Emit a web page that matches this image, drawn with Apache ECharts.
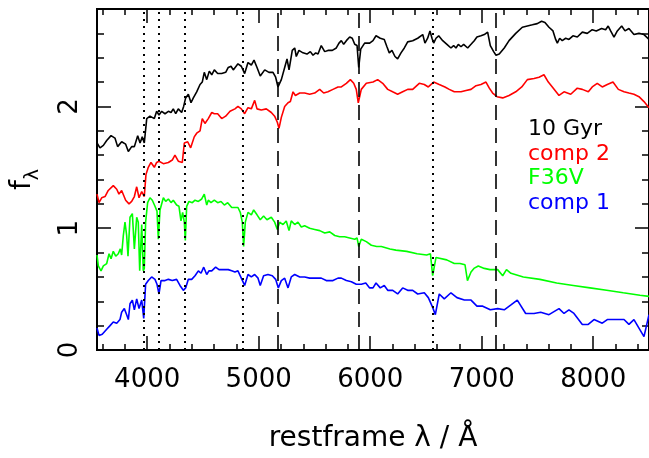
<!DOCTYPE html>
<html>
<head>
<meta charset="utf-8">
<script src="https://cdn.jsdelivr.net/npm/echarts@6/dist/echarts.min.js"></script>
<style>
html, body { margin: 0; padding: 0; background: #fff; }
#chart { width: 649px; height: 458px; }
</style>
</head>
<body>
<div id="chart"></div>
<script>
// spectra: [restframe wavelength (A), f_lambda]
var gyr10 = [[3550,1.70],[3577,1.66],[3607,1.68],[3637,1.72],[3676,1.76],[3711,1.74],[3735,1.67],[3771,1.71],[3807,1.69],[3831,1.63],[3861,1.67],[3885,1.67],[3915,1.76],[3936,1.70],[3956,1.75],[3974,1.70],[3996,1.90],[4025,1.92],[4064,1.90],[4085,1.96],[4106,1.93],[4130,1.96],[4160,1.94],[4190,1.96],[4214,1.95],[4234,1.98],[4256,1.94],[4279,1.98],[4309,1.95],[4327,2.00],[4345,2.07],[4369,2.10],[4393,2.03],[4414,2.07],[4444,2.12],[4474,2.18],[4494,2.20],[4512,2.28],[4534,2.22],[4557,2.29],[4579,2.26],[4602,2.30],[4632,2.27],[4668,2.27],[4704,2.28],[4727,2.32],[4752,2.33],[4772,2.30],[4814,2.35],[4844,2.33],[4874,2.27],[4904,2.36],[4934,2.34],[4958,2.38],[4985,2.32],[5014,2.25],[5054,2.30],[5092,2.28],[5128,2.28],[5152,2.24],[5173,2.16],[5203,2.22],[5233,2.32],[5254,2.39],[5272,2.30],[5301,2.46],[5323,2.48],[5337,2.41],[5361,2.46],[5397,2.44],[5433,2.43],[5463,2.45],[5487,2.42],[5511,2.44],[5532,2.43],[5561,2.50],[5592,2.45],[5621,2.46],[5660,2.46],[5696,2.48],[5720,2.52],[5741,2.54],[5762,2.51],[5786,2.54],[5816,2.57],[5839,2.56],[5861,2.51],[5882,2.50],[5897,2.32],[5915,2.47],[5950,2.52],[5995,2.52],[6025,2.54],[6052,2.58],[6090,2.56],[6126,2.55],[6150,2.49],[6171,2.44],[6195,2.46],[6222,2.41],[6246,2.39],[6276,2.44],[6306,2.48],[6336,2.53],[6381,2.54],[6426,2.56],[6471,2.59],[6491,2.52],[6515,2.56],[6536,2.62],[6554,2.56],[6569,2.52],[6590,2.56],[6614,2.58],[6650,2.54],[6688,2.51],[6724,2.48],[6748,2.50],[6769,2.48],[6790,2.51],[6814,2.49],[6838,2.51],[6874,2.48],[6904,2.51],[6933,2.54],[6957,2.57],[6993,2.58],[7023,2.59],[7053,2.61],[7077,2.50],[7107,2.45],[7128,2.42],[7157,2.43],[7202,2.48],[7245,2.54],[7305,2.60],[7364,2.65],[7409,2.66],[7454,2.67],[7498,2.68],[7537,2.70],[7567,2.69],[7603,2.65],[7639,2.62],[7663,2.55],[7678,2.52],[7699,2.56],[7722,2.54],[7753,2.56],[7782,2.55],[7818,2.58],[7857,2.57],[7902,2.61],[7946,2.60],[7991,2.63],[8027,2.62],[8075,2.64],[8111,2.63],[8134,2.66],[8156,2.62],[8186,2.57],[8216,2.62],[8255,2.66],[8285,2.62],[8320,2.64],[8365,2.59],[8410,2.60],[8455,2.59],[8500,2.55]];

var comp2 = [[3550,1.28],[3568,1.21],[3592,1.25],[3622,1.26],[3651,1.31],[3696,1.35],[3727,1.32],[3747,1.28],[3771,1.31],[3807,1.23],[3837,1.20],[3861,1.22],[3885,1.26],[3906,1.34],[3927,1.25],[3951,1.30],[3974,1.26],[3989,1.44],[4010,1.50],[4034,1.54],[4064,1.50],[4085,1.54],[4106,1.55],[4145,1.53],[4190,1.54],[4225,1.56],[4249,1.60],[4279,1.55],[4315,1.54],[4333,1.70],[4363,1.71],[4390,1.66],[4422,1.75],[4444,1.78],[4474,1.80],[4494,1.90],[4518,1.86],[4548,1.90],[4579,1.95],[4602,1.94],[4632,1.94],[4668,1.90],[4704,1.92],[4743,1.96],[4787,1.98],[4814,2.00],[4844,1.98],[4874,1.94],[4904,1.99],[4934,1.98],[4964,2.05],[4985,1.98],[5023,1.97],[5068,1.98],[5113,1.95],[5143,1.92],[5167,1.87],[5182,1.82],[5203,1.91],[5233,2.00],[5263,2.03],[5284,2.04],[5308,2.12],[5329,2.09],[5368,2.11],[5412,2.11],[5457,2.10],[5502,2.11],[5547,2.14],[5583,2.11],[5621,2.12],[5666,2.14],[5711,2.16],[5741,2.16],[5786,2.19],[5822,2.22],[5852,2.19],[5875,2.14],[5893,2.03],[5920,2.14],[5965,2.19],[6025,2.20],[6067,2.22],[6112,2.19],[6157,2.14],[6201,2.12],[6246,2.10],[6291,2.12],[6336,2.14],[6381,2.14],[6440,2.19],[6485,2.18],[6521,2.16],[6569,2.20],[6619,2.18],[6670,2.16],[6709,2.14],[6754,2.12],[6814,2.12],[6859,2.13],[6904,2.14],[6949,2.17],[6993,2.18],[7038,2.20],[7068,2.15],[7098,2.11],[7137,2.08],[7188,2.07],[7245,2.09],[7305,2.12],[7359,2.16],[7409,2.22],[7469,2.23],[7514,2.24],[7558,2.26],[7597,2.20],[7633,2.16],[7693,2.09],[7738,2.12],[7798,2.10],[7857,2.15],[7902,2.14],[7956,2.12],[7991,2.16],[8036,2.19],[8081,2.16],[8126,2.18],[8177,2.20],[8225,2.14],[8276,2.12],[8320,2.11],[8365,2.10],[8410,2.08],[8455,2.04],[8500,1.99]];

var f36v = [[3550,0.78],[3562,0.69],[3586,0.65],[3607,0.69],[3637,0.71],[3658,0.79],[3676,0.75],[3696,0.81],[3718,0.77],[3741,0.79],[3759,0.83],[3771,0.78],[3786,0.94],[3801,1.05],[3816,0.94],[3828,0.77],[3846,1.09],[3867,1.12],[3885,0.83],[3906,1.09],[3920,1.05],[3933,0.65],[3951,1.03],[3965,0.65],[3974,0.67],[3986,1.05],[4004,1.21],[4025,1.25],[4046,1.23],[4070,1.18],[4088,1.14],[4100,0.91],[4115,1.15],[4145,1.25],[4166,1.22],[4190,1.24],[4214,1.21],[4234,1.23],[4264,1.19],[4285,1.18],[4303,1.06],[4318,1.13],[4333,1.05],[4342,0.90],[4354,1.18],[4375,1.22],[4405,1.21],[4429,1.23],[4459,1.22],[4489,1.24],[4512,1.28],[4534,1.19],[4548,1.23],[4572,1.21],[4602,1.23],[4632,1.21],[4662,1.22],[4692,1.19],[4722,1.21],[4758,1.17],[4787,1.17],[4814,1.17],[4835,1.13],[4853,1.05],[4865,0.85],[4880,1.05],[4904,1.13],[4934,1.11],[4955,1.15],[4985,1.11],[5014,1.07],[5044,1.10],[5074,1.07],[5113,1.09],[5143,1.05],[5167,0.99],[5188,1.05],[5218,1.03],[5247,1.06],[5272,0.98],[5292,1.06],[5323,1.03],[5352,1.05],[5382,1.01],[5412,1.02],[5457,1.00],[5502,0.99],[5547,0.98],[5592,0.96],[5637,0.97],[5682,0.94],[5726,0.93],[5771,0.93],[5816,0.92],[5861,0.91],[5882,0.92],[5897,0.85],[5920,0.91],[5965,0.89],[6010,0.86],[6058,0.85],[6100,0.85],[6177,0.83],[6230,0.82],[6327,0.81],[6420,0.79],[6506,0.78],[6540,0.79],[6560,0.61],[6590,0.76],[6686,0.74],[6754,0.71],[6805,0.71],[6850,0.70],[6872,0.57],[6904,0.64],[6930,0.67],[6969,0.69],[7023,0.67],[7074,0.66],[7143,0.66],[7188,0.61],[7222,0.66],[7262,0.63],[7373,0.60],[7522,0.58],[7672,0.55],[7821,0.53],[7971,0.51],[8120,0.49],[8269,0.47],[8419,0.45],[8500,0.44]];

var comp1 = [[3550,0.18],[3568,0.12],[3597,0.13],[3637,0.17],[3667,0.20],[3696,0.23],[3727,0.22],[3756,0.25],[3771,0.31],[3795,0.34],[3816,0.29],[3831,0.25],[3846,0.38],[3867,0.41],[3885,0.33],[3906,0.42],[3927,0.34],[3951,0.41],[3969,0.26],[3986,0.54],[4010,0.57],[4040,0.60],[4070,0.58],[4088,0.54],[4106,0.46],[4124,0.57],[4160,0.57],[4190,0.58],[4225,0.57],[4264,0.58],[4294,0.53],[4324,0.49],[4345,0.51],[4369,0.58],[4399,0.58],[4429,0.61],[4459,0.65],[4483,0.63],[4507,0.68],[4534,0.62],[4554,0.65],[4579,0.65],[4614,0.68],[4644,0.66],[4683,0.66],[4727,0.66],[4758,0.65],[4787,0.64],[4814,0.65],[4844,0.59],[4874,0.53],[4904,0.62],[4934,0.60],[4964,0.62],[4994,0.59],[5014,0.53],[5044,0.61],[5083,0.62],[5122,0.61],[5152,0.58],[5176,0.51],[5203,0.57],[5233,0.59],[5263,0.51],[5292,0.60],[5323,0.62],[5368,0.60],[5412,0.60],[5457,0.59],[5516,0.59],[5561,0.59],[5606,0.57],[5666,0.57],[5711,0.59],[5741,0.59],[5786,0.57],[5831,0.56],[5875,0.54],[5920,0.54],[5960,0.55],[5995,0.51],[6025,0.51],[6052,0.55],[6090,0.51],[6126,0.53],[6157,0.49],[6202,0.49],[6246,0.46],[6291,0.51],[6336,0.49],[6381,0.49],[6426,0.46],[6485,0.47],[6521,0.43],[6560,0.35],[6584,0.29],[6619,0.46],[6664,0.42],[6724,0.47],[6778,0.43],[6844,0.41],[6904,0.41],[6957,0.36],[7009,0.36],[7077,0.33],[7143,0.34],[7202,0.33],[7262,0.37],[7319,0.41],[7394,0.30],[7469,0.30],[7529,0.31],[7603,0.29],[7693,0.34],[7738,0.30],[7782,0.33],[7827,0.30],[7902,0.21],[7955,0.21],[8007,0.25],[8081,0.22],[8126,0.25],[8201,0.25],[8276,0.25],[8320,0.21],[8365,0.25],[8410,0.18],[8455,0.11],[8500,0.29]];

// line markers
var dottedLines = [3969, 4102, 4340, 4861, 6563];
var dashedLines = [5175, 5893, 7125];

// ticks
var xMajor = [4000, 5000, 6000, 7000, 8000];
var xMinor = [3600, 3800, 4200, 4400, 4600, 4800, 5200, 5400, 5600, 5800, 6200, 6400, 6600, 6800, 7200, 7400, 7600, 7800, 8200, 8400];
var yMajor = [0, 1, 2];
var yMinor = [0.2, 0.4, 0.6, 0.8, 1.2, 1.4, 1.6, 1.8, 2.2, 2.4, 2.6];

var seriesNames = ['10 Gyr', 'comp 2', 'F36V', 'comp 1'];
var seriesColors = ['#000000', '#ff0000', '#00ff00', '#0000ff'];

var FONT = '"DejaVu Sans", sans-serif';

function plain(v) { return String(v); }

function xAx(pos, ticks, len, labels) {
    return {
        type: 'value', position: pos, min: 3550, max: 8500,
        axisLine: { show: true, onZero: false, lineStyle: { color: '#000', width: 2 } },
        axisTick: { show: true, inside: true, length: len, customValues: ticks, lineStyle: { color: '#000', width: 1.5 } },
        axisLabel: { show: labels, customValues: ticks, formatter: plain, margin: 17, fontSize: 26, color: '#000', fontFamily: FONT },
        splitLine: { show: false }
    };
}
function yAx(pos, ticks, len, labels) {
    return {
        type: 'value', position: pos, min: 0, max: 2.8,
        axisLine: { show: true, onZero: false, lineStyle: { color: '#000', width: 2 } },
        axisTick: { show: true, inside: true, length: len, customValues: ticks, lineStyle: { color: '#000', width: 1.5 } },
        axisLabel: { show: labels, customValues: ticks, formatter: plain, rotate: 90, margin: 14, fontSize: 26, color: '#000', fontFamily: FONT },
        splitLine: { show: false }
    };
}

var xAxes = [xAx('bottom', xMajor, 14, true), xAx('bottom', xMinor, 6, false), xAx('top', xMajor, 14, false), xAx('top', xMinor, 6, false)];
xAxes[0].name = 'restframe λ / Å';
xAxes[0].nameLocation = 'middle';
xAxes[0].nameGap = 75;
xAxes[0].nameTextStyle = { fontSize: 28, color: '#000', fontFamily: FONT };

var yAxes = [yAx('left', yMajor, 14, true), yAx('left', yMinor, 7, false), yAx('right', yMajor, 14, false), yAx('right', yMinor, 7, false)];
yAxes[0].name = '{f|f}{l|λ}';
yAxes[0].nameLocation = 'middle';
yAxes[0].nameRotate = 90;
yAxes[0].nameGap = 54;
yAxes[0].nameTextStyle = {
    fontFamily: FONT, color: '#000',
    rich: {
        f: { fontSize: 28, fontFamily: FONT, color: '#000', verticalAlign: 'top', lineHeight: 34 },
        l: { fontSize: 19, fontFamily: FONT, color: '#000', verticalAlign: 'bottom', lineHeight: 20 }
    }
};

var datasets = [gyr10, comp2, f36v, comp1];
var series = datasets.map(function (d, i) {
    return {
        name: seriesNames[i], type: 'line', data: d, showSymbol: false,
        lineStyle: { color: seriesColors[i], width: 1.6 }, itemStyle: { color: seriesColors[i] },
        silent: true
    };
});
series[0].markLine = {
    silent: true, symbol: ['none', 'none'], label: { show: false },
    lineStyle: { color: '#000', width: 1.5 },
    data: dottedLines.map(function (v) { return { xAxis: v, lineStyle: { type: [2, 5], color: '#000', width: 2 } }; })
        .concat(dashedLines.map(function (v) { return { xAxis: v, lineStyle: { type: [15, 8], color: '#000', width: 1.6 } }; }))
};

var legendText = seriesNames.map(function (n, i) {
    return {
        type: 'text', left: 528, top: 118 + i * 24.8,
        style: { text: n, fill: seriesColors[i], font: '22px ' + FONT }
    };
});

var chart = echarts.init(document.getElementById('chart'), null, { renderer: 'canvas' });
chart.setOption({
    animation: false,
    backgroundColor: '#fff',
    grid: { left: 97, right: 0, top: 9, bottom: 99, containLabel: false },
    xAxis: xAxes,
    yAxis: yAxes,
    series: series,
    graphic: legendText
});
</script>
</body>
</html>
